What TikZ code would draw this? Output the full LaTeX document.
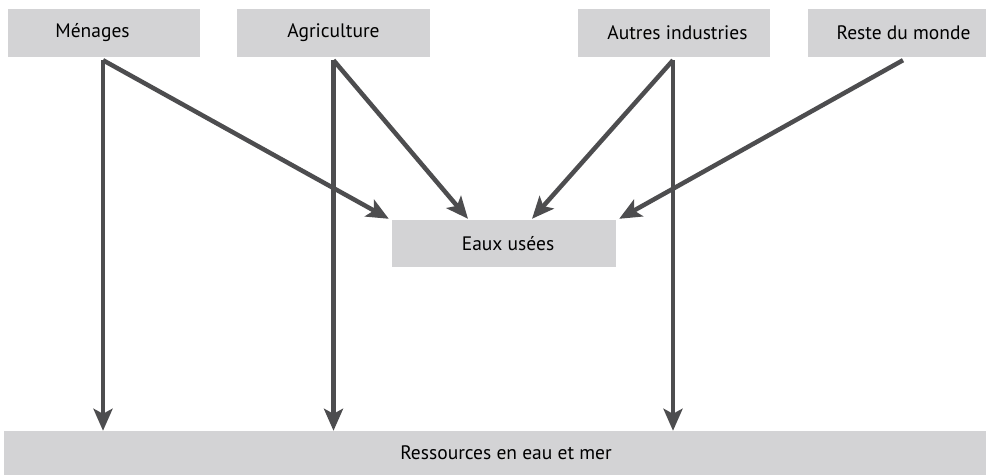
\documentclass[tikz,border=0pt]{standalone}
\usepackage{fontspec}
\setmainfont{PT Sans}
\usetikzlibrary{arrows.meta,calc}
\definecolor{boxgray}{HTML}{D3D3D5}
\definecolor{arrowgray}{HTML}{4D4D4F}
% label set with its centre moved sideways by #1 inside its box
\newcommand{\offtext}[2]{\makebox[0pt]{\kern\dimexpr 2\dimexpr #1\relax\relax #2}}
\begin{document}
\begin{tikzpicture}[x=1pt,y=-1pt,
  box/.style={fill=boxgray,draw=none,inner sep=0pt,font=\fontsize{19.5}{23}\selectfont,text=black},
  flow/.style={draw=arrowgray,line width=4.5pt,
    -{Stealth[length=22pt,width=19pt,inset=5pt]}}]
  \useasboundingbox (0,0) rectangle (988,476);
  % source boxes along the top
  \node[box,minimum width=192pt,minimum height=48pt] (men) at (104,33) {\offtext{-11.5pt}{Ménages}};
  \node[box,minimum width=193pt,minimum height=48pt] (agr) at (333.5,33) {Agriculture};
  \node[box,minimum width=192pt,minimum height=48pt] (aut) at (674,33) {\offtext{3.5pt}{Autres industries}};
  \node[box,minimum width=178pt,minimum height=48pt] (rdm) at (897,33) {\offtext{6.5pt}{Reste du monde}};
  % intermediate box
  \node[box,minimum width=224pt,minimum height=47pt] (eu) at (504,243.5) {\offtext{4pt}{Eaux usées}};
  % receiving box along the bottom
  \node[box,minimum width=982pt,minimum height=44pt] (res) at (495,453) {\offtext{11pt}{Ressources en eau et mer}};
  % start points of the flows, just below each source box
  \coordinate (m0) at ($(men.south)+(-1,3)$);
  \coordinate (a0) at ($(agr.south)+(0,3)$);
  \coordinate (i0) at ($(aut.south)+(-1,3)$);
  \coordinate (r0) at ($(rdm.south)+(6,3)$);
  % flows into the waste water box
  \draw[flow] (m0) -- ($(eu.north west)+(-3,-1)$);
  \draw[flow] (a0) -- ($(eu.north)+(-36,-1)$);
  \draw[flow] (i0) -- ($(eu.north)+(28,-1)$);
  \draw[flow] (r0) -- ($(eu.north east)+(3,-1)$);
  % direct flows to water resources
  \draw[flow] (m0) -- (m0 |- res.north);
  \draw[flow] (a0) -- (a0 |- res.north);
  \draw[flow] (i0) -- (i0 |- res.north);
\end{tikzpicture}
\end{document}
